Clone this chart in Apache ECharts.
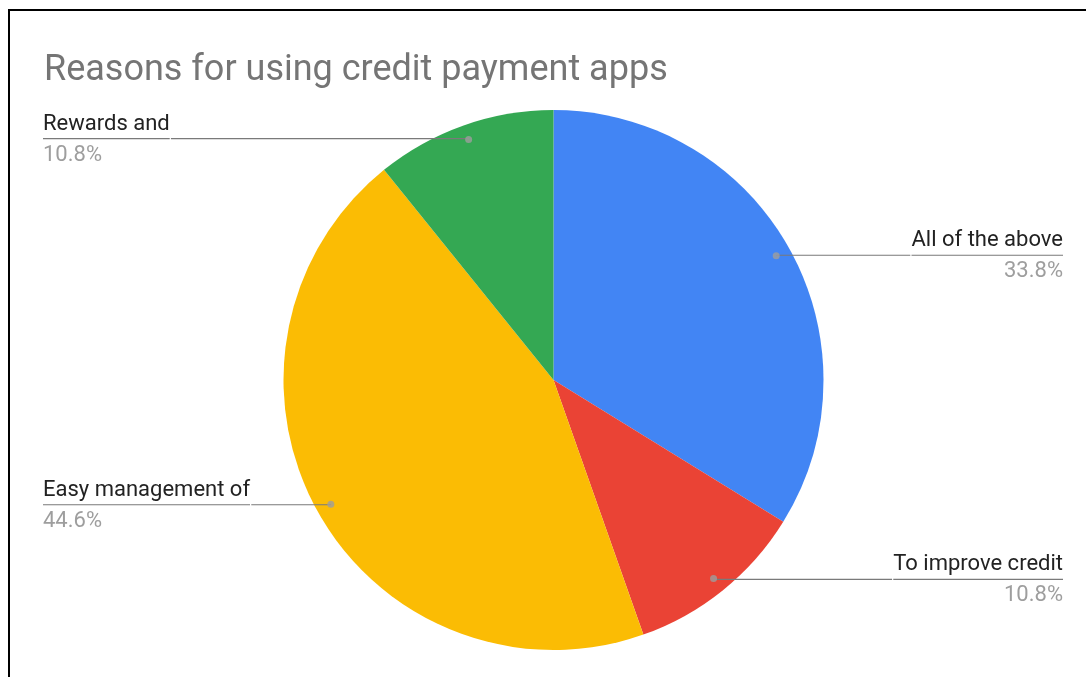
<!DOCTYPE html>
<html>
<head>
<meta charset="utf-8">
<title>Reasons for using credit payment apps</title>
<script src="https://cdn.jsdelivr.net/npm/echarts@6/dist/echarts.min.js"></script>
<style>
  html, body { margin: 0; padding: 0; background: #fff; overflow: hidden; }
  #chart { position: absolute; left: 0; top: 0; width: 1086px; height: 677px; }
  #frame {
    position: absolute; left: 8px; top: 9px; width: 2000px; height: 2000px;
    border-top: 2px solid #000; border-left: 2px solid #000; pointer-events: none;
  }
</style>
</head>
<body>
<div id="chart"></div>
<div id="frame"></div>
<script>
// Survey answers and their share of responses (%)
const categories = ['All of the above', 'To improve credit', 'Easy management of', 'Rewards and'];
const shares = [33.8, 10.8, 44.6, 10.8];

// Slice colours, in the same order as the categories
const palette = ['#4285F4', '#EA4335', '#FBBC04', '#34A853'];

const CX = 553.5, CY = 380, R = 270, R_LABEL = 255;
const VIEW_LEFT = 43, VIEW_RIGHT = 23;

const pieData = categories.map((name, i) => ({ name, value: shares[i] }));

// Marker dots sit inside each slice at its mid angle (polar angle axis runs 0..total)
const total = shares.reduce((a, b) => a + b, 0);
let acc = 0;
const dotData = shares.map(v => {
  const mid = acc + v / 2;
  acc += v;
  return [R_LABEL / R, mid];
});

const chart = echarts.init(document.getElementById('chart'), null, { renderer: 'canvas' });

chart.setOption({
  backgroundColor: '#ffffff',
  animation: false,
  title: {
    text: 'Reasons for using credit payment apps',
    left: 44,
    top: 53,
    padding: 0,
    textStyle: { fontFamily: 'Roboto', fontSize: 36, fontWeight: 'normal', color: '#757575' }
  },
  polar: { center: [CX, CY], radius: R },
  angleAxis: { type: 'value', min: 0, max: total, startAngle: 90, clockwise: true, show: false },
  radiusAxis: { type: 'value', min: 0, max: 1, show: false },
  series: [
    {
      // the pie itself
      type: 'pie',
      left: VIEW_LEFT, right: VIEW_RIGHT, top: 0, bottom: 0,
      center: [CX - VIEW_LEFT, CY],
      radius: R,
      startAngle: 90,
      clockwise: true,
      silent: true,
      label: { show: false },
      labelLine: { show: false },
      itemStyle: { borderWidth: 0 },
      color: palette,
      data: pieData,
      z: 1
    },
    {
      // transparent twin that carries the callout labels
      type: 'pie',
      left: VIEW_LEFT, right: VIEW_RIGHT, top: 0, bottom: 0,
      center: [CX - VIEW_LEFT, CY],
      radius: R_LABEL,
      startAngle: 90,
      clockwise: true,
      silent: true,
      percentPrecision: 1,
      itemStyle: { color: 'rgba(0,0,0,0)', borderWidth: 0 },
      label: {
        show: true,
        position: 'outside',
        alignTo: 'edge',
        edgeDistance: 0,
        distanceToLabelLine: 0,
        padding: [4, 0, 0, 0],
        formatter: '{name|{b}}\n{hr|}\n{pct|{d}%}',
        rich: {
          name: { fontFamily: 'Roboto', fontSize: 22, color: '#222222', lineHeight: 29 },
          hr: { width: '100%', height: 0, lineHeight: 0, borderColor: '#7a7a7a', borderWidth: 1.2 },
          pct: { fontFamily: 'Roboto', fontSize: 22, color: '#9e9e9e', lineHeight: 33 }
        }
      },
      labelLine: {
        show: true,
        length: 1,
        length2: 10,
        smooth: false,
        minTurnAngle: 0,
        maxSurfaceAngle: 180,
        lineStyle: { color: '#7a7a7a', width: 1.2 }
      },
      data: pieData,
      z: 2
    },
    {
      type: 'scatter',
      coordinateSystem: 'polar',
      symbol: 'circle',
      symbolSize: 7,
      silent: true,
      itemStyle: { color: '#9e9e9e' },
      data: dotData,
      z: 3
    }
  ]
});
</script>
</body>
</html>
